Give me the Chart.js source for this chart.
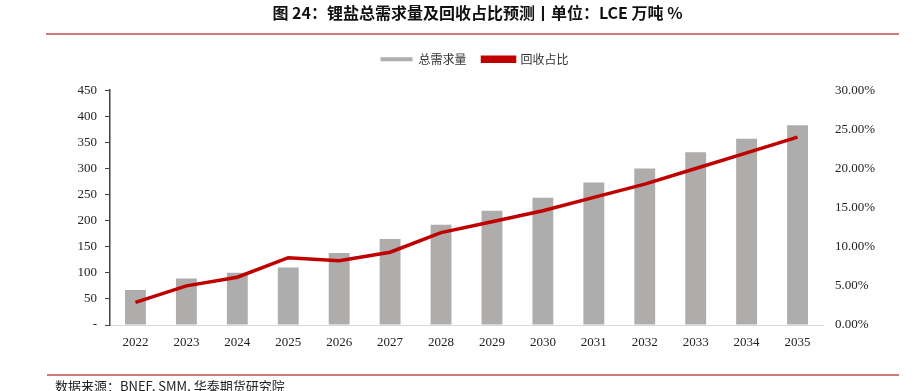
<!DOCTYPE html>
<html><head><meta charset="utf-8">
<script src="https://cdn.jsdelivr.net/npm/chart.js@4/dist/chart.umd.min.js"></script>
<style>html,body{margin:0;padding:0;background:#fff}#wrap{width:919px;height:391px}</style>
</head><body><div id="wrap"><canvas id="c" width="919" height="391"></canvas></div>
<script>
const categories = ['2022','2023','2024','2025','2026','2027','2028','2029','2030','2031','2032','2033','2034','2035'];
const demand = [67, 89, 100, 110, 138, 165, 192, 219, 244, 273, 300, 331, 357, 383];
const recycleShare = [2.9, 5.0, 6.1, 8.6, 8.2, 9.3, 11.8, 13.2, 14.6, 16.3, 18.0, 20.0, 22.0, 24.0];
const leftTicks = [0, 50, 100, 150, 200, 250, 300, 350, 400, 450];
const rightTicks = [0, 5, 10, 15, 20, 25, 30];
const titleText = '图 24：锂盐总需求量及回收占比预测丨单位：LCE 万吨 %';
const sourceText = '数据来源：BNEF, SMM, 华泰期货研究院';

const CJK = '"Noto Sans CJK SC", sans-serif';
const SERIF = '"Liberation Serif", "Times New Roman", serif';

function shiftDraw(box, dx) {
  const origDraw = box.draw;
  box.draw = function () {
    const ctx = this.ctx;
    ctx.save(); ctx.translate(dx, 0); origDraw.call(this); ctx.restore();
  };
}

const headerTweaks = {
  id: 'headerTweaks',
  beforeInit(chart) {
    const lg = chart.legend;
    const origFit = lg.fit;
    lg.fit = function () { origFit.call(this); this.height += 15; };
    shiftDraw(lg, 15);
    shiftDraw(chart.titleBlock, 18);
  }
};

const decor = {
  id: 'decor',
  afterDraw(chart) {
    const ctx = chart.ctx;
    ctx.save();
    ctx.strokeStyle = '#cf7a7a';
    ctx.lineWidth = 2;
    ctx.beginPath(); ctx.moveTo(46, 34); ctx.lineTo(899, 34); ctx.stroke();
    ctx.beginPath(); ctx.moveTo(47, 375); ctx.lineTo(899, 375); ctx.stroke();
    ctx.fillStyle = '#222';
    ctx.font = '13px ' + CJK;
    ctx.textBaseline = 'top';
    ctx.textAlign = 'left';
    ctx.fillText(sourceText, 55, 380);
    ctx.restore();
  }
};

new Chart(document.getElementById('c'), {
  data: {
    labels: categories,
    datasets: [
      { type: 'line', label: '回收占比', data: recycleShare, yAxisID: 'y1',
        borderColor: '#c00000', backgroundColor: '#c00000', borderWidth: 3.5,
        pointRadius: 0, tension: 0, order: 0 },
      { type: 'bar', label: '总需求量', data: demand, yAxisID: 'y',
        backgroundColor: '#aeadac', borderColor: '#d4d4d4', borderWidth: 0,
        barPercentage: 0.41, categoryPercentage: 1.0, order: 1 }
    ]
  },
  options: {
    responsive: false,
    animation: false,
    layout: { padding: { left: 0, right: 0, top: 0, bottom: 0 } },
    plugins: {
      title: { display: true, text: titleText, color: '#111',
        font: { family: CJK, size: 16, weight: 'bold' }, padding: { top: 3, bottom: 15 } },
      legend: { display: true, position: 'top', reverse: true,
        labels: { color: '#333', font: { family: CJK, size: 12 }, boxWidth: 32, boxHeight: 4, padding: 16 } },
      tooltip: { enabled: false }
    },
    scales: {
      x: {
        grid: { display: false, drawTicks: false },
        border: { display: true, color: '#d9d9d9', width: 1 },
        ticks: { color: '#222', font: { family: SERIF, size: 13 }, padding: 10, maxRotation: 0 },
        afterFit(s) { s.height = 66; }
      },
      y: {
        position: 'left', min: 0, max: 450,
        afterBuildTicks(s) { s.ticks = leftTicks.map(v => ({ value: v })); },
        grid: { display: true, drawOnChartArea: false, drawTicks: true, tickLength: 5, color: '#444' },
        border: { display: true, color: '#444', width: 1.5 },
        ticks: { color: '#222', font: { family: SERIF, size: 13 }, padding: 8,
          callback: v => v === 0 ? '-' : String(v) },
        afterFit(s) { s.width = 110; }
      },
      y1: {
        position: 'right', min: 0, max: 30,
        afterBuildTicks(s) { s.ticks = rightTicks.map(v => ({ value: v })); },
        grid: { display: false, drawTicks: false },
        border: { display: false },
        ticks: { color: '#222', font: { family: SERIF, size: 13 }, padding: 12,
          callback: v => v.toFixed(2) + '%' },
        afterFit(s) { s.width = 96; }
      }
    }
  },
  plugins: [headerTweaks, decor]
});
</script></body></html>
